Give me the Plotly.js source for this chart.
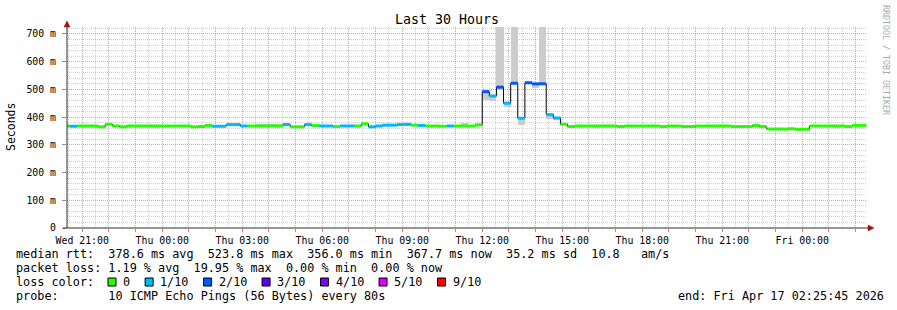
<!DOCTYPE html>
<html><head><meta charset="utf-8">
<script src="https://cdn.plot.ly/plotly-3.0.1.min.js"></script>
<style>html,body{margin:0;padding:0;background:#fff;}#chart{width:897px;height:310px;}</style>
</head><body><div id="chart"></div>
<script>
// ---- data (RRD steps of 16 minutes starting Wed 20:16) ----
const stepStart = '2026-04-15T20:16:00';
const stepMinutes = 16;
const median = [
 368,367,368,368,368,365,374,368,365,368,
 368,368,368,368,368,368,368,368,365,366,
 370,367,367,373,373,368,368,368,368,368,
 368,373,365,365,373,370,368,368,366,368,
 368,368,376,365,368,371,371,373,374,371,
 370,368,368,367,368,368,368,368,372,492,
 476,508,450,522,396,524,520,520,409,397,
 374,366,368,368,368,368,368,368,366,368,
 368,368,368,368,366,368,368,366,366,368,
 368,368,368,368,366,366,366,370,366,357,
 357,357,358,356,356,368,368,368,368,368,
 366,370,370];
const loss = [
 0,1,0,0,0,0,0,0,0,0,
 0,0,0,0,0,0,0,0,0,0,
 0,1,1,1,1,1,0,0,0,0,
 0,1,0,0,1,0,1,1,0,1,
 1,0,0,1,1,1,1,1,1,0,
 1,0,0,0,1,0,0,0,0,2,
 1,2,1,2,1,2,2,2,1,1,
 0,0,0,0,0,0,0,0,0,0,
 0,0,0,0,0,0,0,0,0,0,
 0,0,0,0,0,0,0,0,0,0,
 0,0,0,0,0,0,0,0,0,0,
 0,0,0];
const smokeStep = [27,28,29,30,31,47,48,56,59,60,61,62,63,64,65,66,67,68,69];
const smokeLow  = [366,366,366,366,368,368,368,366,462,457,498,435,518,372,519,505,515,392,390];
const smokeHigh = [376,376,376,376,377,378,378,377,494,478,760,452,760,398,526,522,760,411,399];
const lossLabels = ['0','1/10','2/10','3/10','4/10','5/10','9/10'];
const lossColors = ['#26ff00','#00b8ff','#0059ff','#5e00ff','#7e00ff','#dd00ff','#ff0000'];
const yTickVals = [0,100,200,300,400,500,600,700];
const yTickText = ['0','100 m','200 m','300 m','400 m','500 m','600 m','700 m'];
const xLabelTimes = ['2026-04-15 21:00:00','2026-04-16 00:00:00','2026-04-16 03:00:00','2026-04-16 06:00:00','2026-04-16 09:00:00','2026-04-16 12:00:00','2026-04-16 15:00:00','2026-04-16 18:00:00','2026-04-16 21:00:00','2026-04-17 00:00:00'];
const xLabelText = ['Wed 21:00','Thu 00:00','Thu 03:00','Thu 06:00','Thu 09:00','Thu 12:00','Thu 15:00','Thu 18:00','Thu 21:00','Fri 00:00'];
const rangeStart = '2026-04-15 20:25:45';
const rangeEnd = '2026-04-17 02:25:45';
const statLines = [
 'median rtt:  378.6 ms avg  523.8 ms max  356.0 ms min  367.7 ms now  35.2 ms sd  10.8   am/s',
 'packet loss: 1.19 % avg  19.95 % max  0.00 % min  0.00 % now',
 'loss color:',
 'probe:       10 ICMP Echo Pings (56 Bytes) every 80s'
];
const endText = 'end: Fri Apr 17 02:25:45 2026';
const titleText = 'Last 30 Hours';
const yTitle = 'Seconds';
const sideText = 'RRDTOOL / TOBI OETIKER';

// ---- helpers ----
function fmt(ms){ return new Date(ms).toISOString().replace('T',' ').slice(0,19); }
const t0 = Date.parse(stepStart + 'Z');
const stepMs = stepMinutes*60000;
const n = median.length;
const times = median.map((_, i) => fmt(t0 + i*stepMs));
const endTime = fmt(t0 + n*stepMs);

const L = 67, R = 30, T = 27, B = 82, W = 897, H = 310;
const PW = W - L - R, PH = H - T - B;
const px = x => (x - L) / PW;
const py = y => (H - B - y) / PH;
const MONO = 'DejaVu Sans Mono';

// ---- traces ----
const traces = [];
traces.push({
  type:'bar', x: smokeStep.map(i => times[i]), base: smokeLow,
  y: smokeHigh.map((h, k) => h - smokeLow[k]),
  width: smokeStep.map(() => stepMs), offset: 0,
  marker:{color:'#cccccc', line:{width:0}}, hoverinfo:'skip'
});
traces.push({
  type:'scatter', mode:'lines', x: times.concat([endTime]), y: median.concat([median[n-1]]),
  line:{shape:'hv', color:'#000000', width:1}, hoverinfo:'skip'
});
[0,1,2].forEach(level => {
  const xs = [], ys = [];
  for (let i = 0; i < n; i++) {
    if (loss[i] !== level) continue;
    xs.push(times[i], i + 1 < n ? times[i+1] : endTime, null);
    ys.push(median[i], median[i], null);
  }
  traces.push({type:'scatter', mode:'lines', x: xs, y: ys, connectgaps:false,
    line:{color: lossColors[level], width:3}, hoverinfo:'skip'});
});

// grid positions: hourly major (labels every 3 hours), half-hour minor
const hourVals = [], hourText = [], halfVals = [];
const h0 = Date.parse(xLabelTimes[0].replace(' ','T') + 'Z') - 3600000;
const hEnd = Date.parse(rangeEnd.replace(' ','T') + 'Z');
for (let t = h0; t <= hEnd; t += 3600000) {
  const s = fmt(t);
  hourVals.push(s);
  const k = xLabelTimes.indexOf(s);
  hourText.push(k >= 0 ? xLabelText[k] : '');
  halfVals.push(fmt(t + 1800000));
}
const yMinorVals = [];
for (let v = 20; v < 725; v += 20) if (v % 100 !== 0) yMinorVals.push(v);

// ---- shapes & annotations ----
const shapes = [];
const annotations = [];
shapes.push({type:'line', xref:'paper', yref:'paper', x0:px(67), x1:px(67), y0:py(228), y1:py(25), line:{color:'#303030', width:1}});
shapes.push({type:'line', xref:'paper', yref:'paper', x0:px(63), x1:px(869), y0:py(228), y1:py(228), line:{color:'#303030', width:1}});
shapes.push({type:'path', xref:'paper', yref:'paper', path:`M ${px(67)},${py(21)} L ${px(64)},${py(27)} L ${px(70)},${py(27)} Z`, fillcolor:'#a01010', line:{color:'#a01010', width:0.5}});
shapes.push({type:'path', xref:'paper', yref:'paper', path:`M ${px(874)},${py(228)} L ${px(868)},${py(225)} L ${px(868)},${py(231)} Z`, fillcolor:'#a01010', line:{color:'#a01010', width:0.5}});

const rowY = [254, 268, 282, 296];
statLines.forEach((s, k) => {
  annotations.push({xref:'paper', yref:'paper', x:px(15), y:py(rowY[k]), xanchor:'left', yanchor:'middle',
    text: s.replace(/ /g,'\u00a0'), showarrow:false, borderpad:0,
    font:{family:MONO, size:11.8, color:'#000'}});
});
let lx = 108;
lossLabels.forEach((lab, k) => {
  shapes.push({type:'rect', xref:'paper', yref:'paper', x0:px(lx), x1:px(lx+8), y0:py(278), y1:py(286),
    fillcolor: lossColors[k], line:{color:'#000', width:1}});
  annotations.push({xref:'paper', yref:'paper', x:px(lx+14), y:py(282), xanchor:'left', yanchor:'middle',
    text: lab, showarrow:false, borderpad:0, font:{family:MONO, size:11.8, color:'#000'}});
  lx += 15 + lab.length*7.12 + 15;
});
annotations.push({xref:'paper', yref:'paper', x:px(677), y:py(296), xanchor:'left', yanchor:'middle',
  text: endText.replace(/ /g,'\u00a0'), showarrow:false, borderpad:0, font:{family:MONO, size:11.8, color:'#000'}});
annotations.push({xref:'paper', yref:'paper', x:px(886), y:py(60), xanchor:'center', yanchor:'middle',
  text: sideText.replace(/ /g,'\u00a0'), textangle:90, showarrow:false, borderpad:0, font:{family:MONO, size:8.3, color:'#aaaaaa'}});
annotations.push({xref:'paper', yref:'paper', x:px(11), y:py(127), xanchor:'center', yanchor:'middle',
  text: yTitle, textangle:-90, showarrow:false, borderpad:0, font:{family:MONO, size:11.5, color:'#000'}});

const redGrid = 'rgba(235,0,0,0.4)';
const grayGrid = 'rgba(0,0,0,0.18)';
const layout = {
  width:W, height:H, margin:{l:L, r:R, t:T, b:B, pad:0},
  paper_bgcolor:'#ffffff', plot_bgcolor:'#ffffff', showlegend:false, hovermode:false,
  font:{family:MONO, color:'#000'},
  title:{text:titleText, font:{family:MONO, size:13.3, color:'#000'}, xref:'container', yref:'container',
    x:447/W, xanchor:'center', y:1-19/H, yanchor:'middle'},
  xaxis:{type:'date', range:[rangeStart, rangeEnd], tickmode:'array', tickvals:hourVals, ticktext:hourText,
    showgrid:true, gridcolor:redGrid, griddash:'1px,1px', gridwidth:1,
    ticks:'outside', ticklen:3, tickcolor:'rgba(230,60,60,0.7)', tickwidth:1,
    minor:{tickmode:'array', tickvals:halfVals, showgrid:true, gridcolor:grayGrid, griddash:'1px,1px', ticks:''},
    showline:false, zeroline:false, tickangle:0,
    tickfont:{family:MONO, size:9.85, color:'#000'}, fixedrange:true},
  yaxis:{range:[0,725], tickmode:'array', tickvals:yTickVals, ticktext:yTickText,
    showgrid:true, gridcolor:redGrid, griddash:'1px,1px', gridwidth:1,
    ticks:'outside', ticklen:4, tickcolor:'#909090',
    minor:{tickmode:'array', tickvals:yMinorVals, showgrid:true, gridcolor:grayGrid, griddash:'1px,1px', ticks:''},
    showline:false, zeroline:false, ticklabelstandoff:4,
    tickfont:{family:MONO, size:9.85, color:'#000'}, fixedrange:true},
  bargap:0, shapes:shapes, annotations:annotations
};
Plotly.newPlot('chart', traces, layout, {staticPlot:true, displayModeBar:false});
</script>
</body></html>
